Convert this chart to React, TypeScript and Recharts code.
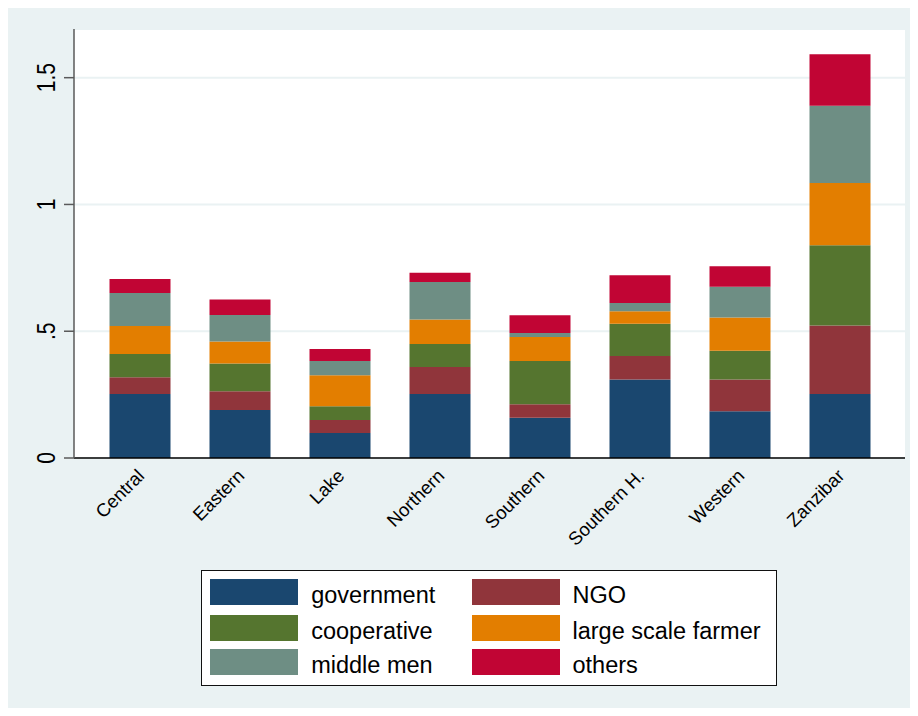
import React from "react";
import { BarChart, Bar, XAxis, YAxis, CartesianGrid } from "recharts";

const categories = ["Central", "Eastern", "Lake", "Northern", "Southern", "Southern H.", "Western", "Zanzibar"];
const government = [0.252, 0.189, 0.099, 0.252, 0.159, 0.310, 0.184, 0.252];
const ngo = [0.066, 0.074, 0.051, 0.107, 0.053, 0.092, 0.126, 0.271];
const cooperative = [0.092, 0.110, 0.054, 0.091, 0.171, 0.127, 0.113, 0.316];
const largeScaleFarmer = [0.111, 0.086, 0.122, 0.096, 0.094, 0.050, 0.131, 0.246];
const middleMen = [0.130, 0.105, 0.057, 0.148, 0.016, 0.032, 0.121, 0.304];
const others = [0.055, 0.061, 0.047, 0.037, 0.070, 0.110, 0.081, 0.203];

const yTicks = [0, 0.5, 1, 1.5];
const yTickLabels = ["0", ".5", "1", "1.5"];

const series = [
  { key: "government", name: "government", color: "#1a476f", values: government },
  { key: "ngo", name: "NGO", color: "#90353b", values: ngo },
  { key: "cooperative", name: "cooperative", color: "#55752f", values: cooperative },
  { key: "large", name: "large scale farmer", color: "#e37e00", values: largeScaleFarmer },
  { key: "middle", name: "middle men", color: "#6e8e84", values: middleMen },
  { key: "others", name: "others", color: "#c10534", values: others },
];

const legendOrder = ["government", "ngo", "cooperative", "large", "middle", "others"];

const data = categories.map((c, i) => {
  const row: Record<string, any> = { region: c };
  series.forEach((s) => {
    row[s.key] = s.values[i];
  });
  return row;
});

const FONT = "'Liberation Sans', Arial, Helvetica, sans-serif";

const XTick = (props: any) => {
  const { x, y, payload } = props;
  const ax = x + 6;
  const ay = y + 19;
  return (
    <text
      x={ax}
      y={ay}
      transform={`rotate(-45, ${ax}, ${ay})`}
      textAnchor="end"
      fontSize={18.5}
      fontFamily={FONT}
      fill="#000"
    >
      {payload.value}
    </text>
  );
};

const YTick = (props: any) => {
  const { x, y, payload } = props;
  const idx = yTicks.indexOf(payload.value);
  const label = idx >= 0 ? yTickLabels[idx] : String(payload.value);
  return (
    <text
      x={0}
      y={0}
      transform={`translate(${x}, ${y}) rotate(-90) scale(1, 1.2)`}
      textAnchor="middle"
      fontSize={21}
      fontFamily={FONT}
      fill="#000"
    >
      {label}
    </text>
  );
};

const LegendBox = () => {
  const rows = [
    [legendOrder[0], legendOrder[1]],
    [legendOrder[2], legendOrder[3]],
    [legendOrder[4], legendOrder[5]],
  ];
  const rowTops = [9.3, 45, 79];
  const colSwatch = [9, 271];
  const colText = [110.7, 372];
  return (
    <div
      style={{
        position: "absolute",
        left: 201,
        top: 570,
        width: 576,
        height: 116,
        boxSizing: "border-box",
        border: "1.5px solid #111",
        background: "#fff",
      }}
    >
      {rows.map((r, ri) =>
        r.map((k, ci) => {
          const s = series.find((q) => q.key === k)!;
          return (
            <React.Fragment key={k}>
              <div
                style={{
                  position: "absolute",
                  left: colSwatch[ci] - 1.5,
                  top: rowTops[ri] - 1.5,
                  width: 88,
                  height: 26,
                  background: s.color,
                }}
              />
              <div
                style={{
                  position: "absolute",
                  left: colText[ci] - 1.5,
                  top: rowTops[ri] - 1.5 + 1,
                  height: 30,
                  lineHeight: "30px",
                  fontSize: 23.5,
                  fontFamily: FONT,
                  color: "#000",
                  whiteSpace: "nowrap",
                }}
              >
                {s.name}
              </div>
            </React.Fragment>
          );
        })
      )}
    </div>
  );
};

export default function App() {
  return (
    <div style={{ position: "relative", width: 918, height: 716, margin: -8, background: "#fff", overflow: "hidden" }}>
      <div style={{ position: "absolute", left: 6, top: 4, width: 912, height: 712, background: "#eaf2f3" }} />
      <div style={{ position: "absolute", left: 74, top: 29, width: 831, height: 429, background: "#fff" }} />
      <div style={{ position: "absolute", left: 0, top: 0 }}>
        <BarChart
          width={918}
          height={716}
          data={data}
          margin={{ top: 29, right: 13, bottom: 228, left: 0 }}
          barSize={61}
        >
          <CartesianGrid vertical={false} stroke="#eaf2f3" strokeWidth={2} />
          <XAxis
            dataKey="region"
            type="category"
            padding={{ left: 15.5, right: 15.5 }}
            height={30}
            tickLine={false}
            tickSize={0}
            tickMargin={0}
            axisLine={{ stroke: "#000", strokeWidth: 1.5 }}
            tick={<XTick />}
            interval={0}
          />
          <YAxis
            type="number"
            domain={[0, 1.692]}
            ticks={yTicks}
            width={74}
            tickSize={10}
            tickMargin={9}
            tickLine={{ stroke: "#5a5a5a", strokeWidth: 1.5 }}
            axisLine={{ stroke: "#5a5a5a", strokeWidth: 1.5 }}
            tick={<YTick />}
            allowDataOverflow
          />
          {series.map((s) => (
            <Bar
              key={s.key}
              dataKey={s.key}
              name={s.name}
              stackId="a"
              fill={s.color}
              isAnimationActive={false}
            />
          ))}
        </BarChart>
      </div>
      <LegendBox />
    </div>
  );
}
